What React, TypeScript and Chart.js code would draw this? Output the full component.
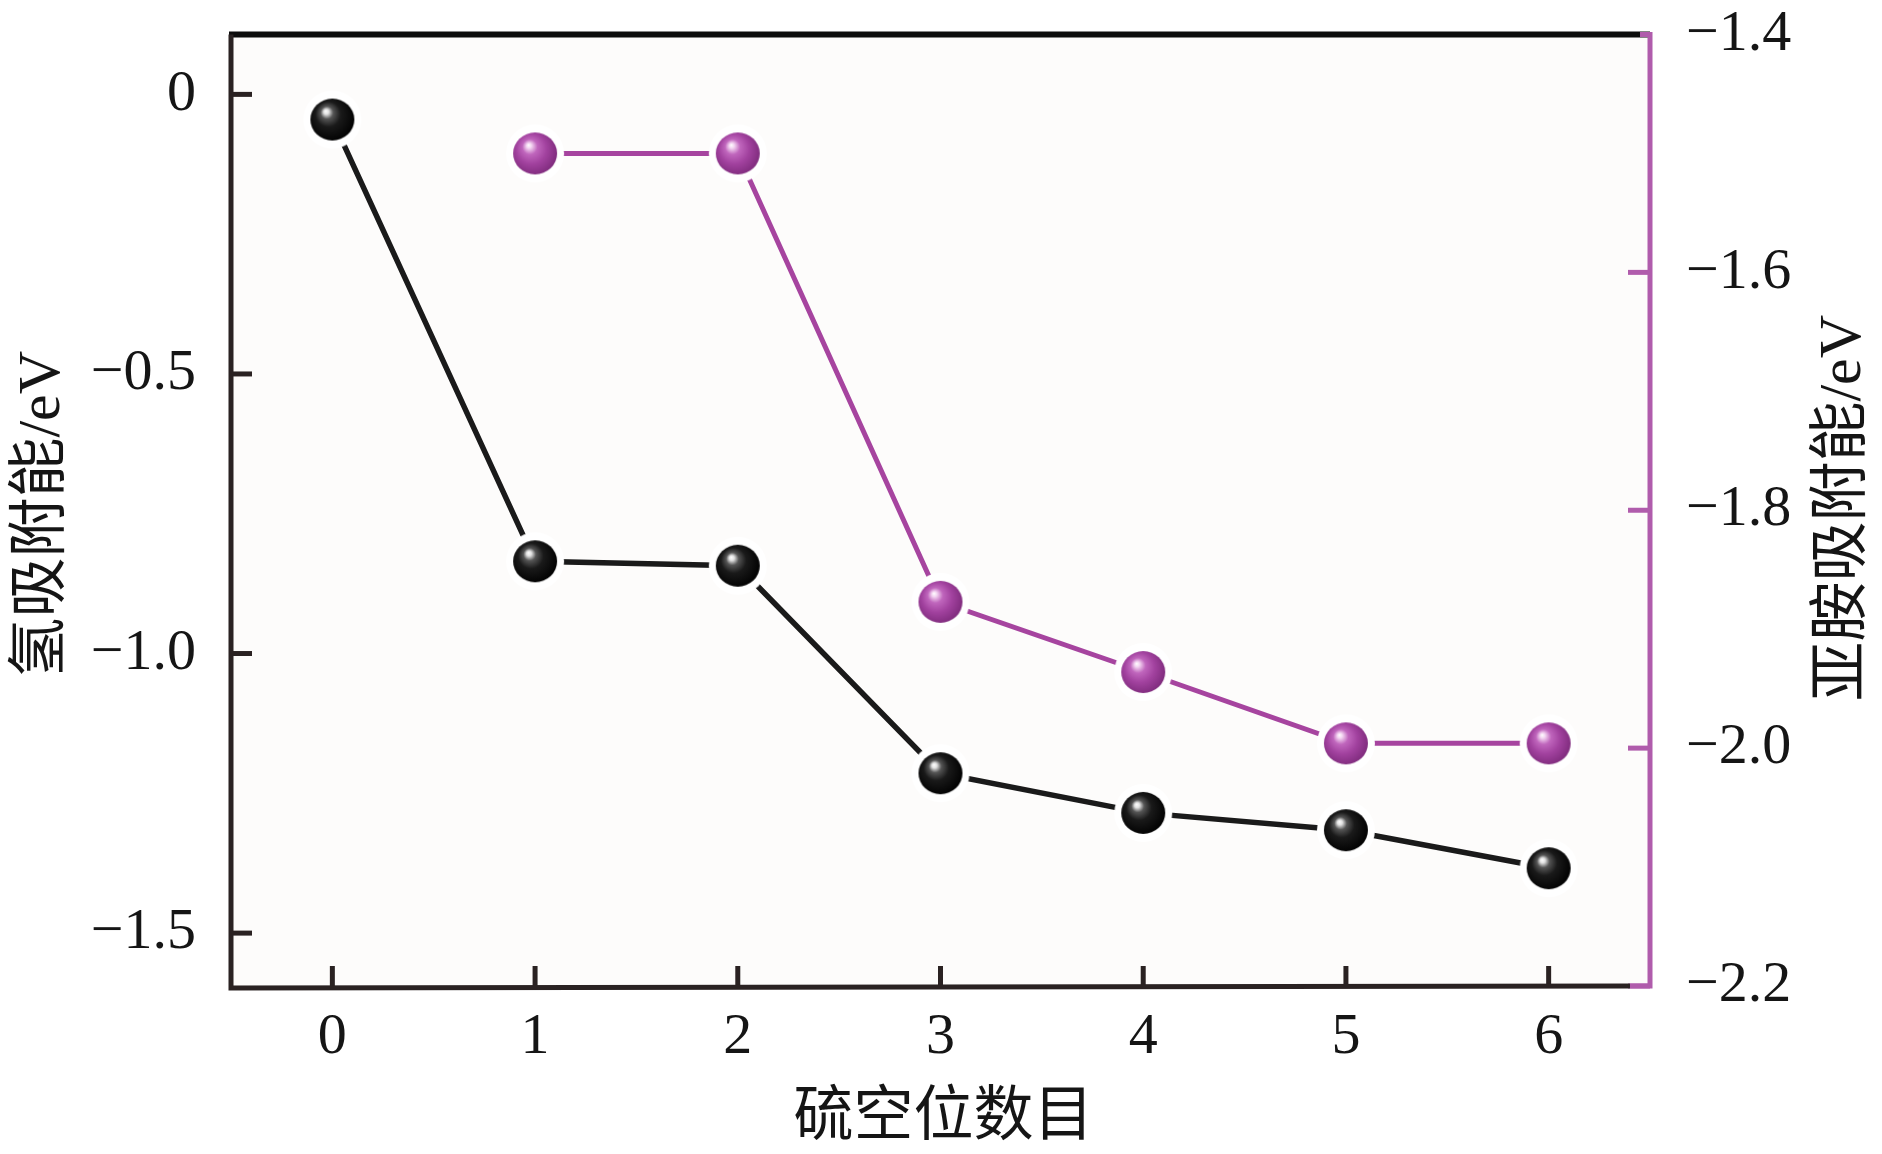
import React, { useEffect, useRef } from "react";
import { Chart, registerables } from "chart.js";

Chart.register(...registerables);

// ---- data ----
const vacancyCounts = [0, 1, 2, 3, 4, 5, 6];
const hydrogenAdsorption = [-0.045, -0.835, -0.843, -1.214, -1.285, -1.316, -1.384];
const imineAdsorption: (number | null)[] = [null, -1.5, -1.5, -1.877, -1.936, -1.996, -1.996];
const xTickValues = [0, 1, 2, 3, 4, 5, 6];
const leftTickValues = [0, -0.5, -1.0, -1.5];
const rightTickValues = [-1.4, -1.6, -1.8, -2.0, -2.2];
const xTitle = "硫空位数目";
const leftTitle = "氢吸附能/eV";
const rightTitle = "亚胺吸附能/eV";

const DARK = "#2a2222";
const PURPLE_LINE = "#a6449f";
const PURPLE_AXIS = "#b05cac";
const TEXT = "#151515";
const TICK_FONT = { family: '"Liberation Serif", "Times New Roman", serif', size: 58 };
const TITLE_FONT = '60px "Liberation Serif", "Noto Sans CJK SC", serif';

function fmt(v: number): string {
  if (Math.abs(v) < 1e-9) return "0";
  return (v < 0 ? "\u2212" : "") + Math.abs(v).toFixed(1);
}

function makeSphere(r: number, halo: number, stops: [number, string][]): HTMLCanvasElement {
  const size = Math.ceil((r + halo) * 2) + 2;
  const c = document.createElement("canvas");
  c.width = size;
  c.height = size;
  const g = c.getContext("2d")!;
  const cx = size / 2;
  const cy = size / 2;
  g.fillStyle = "#ffffff";
  g.beginPath();
  g.arc(cx, cy, r + halo, 0, Math.PI * 2);
  g.fill();
  const grad = g.createRadialGradient(cx - 0.3 * r, cy - 0.38 * r, 0, cx - 0.08 * r, cy - 0.1 * r, r * 1.15);
  stops.forEach(([o, col]) => grad.addColorStop(o, col));
  g.fillStyle = grad;
  g.beginPath();
  g.ellipse(cx, cy, r, r * 0.95, 0, 0, Math.PI * 2);
  g.fill();
  return c;
}

const decor = {
  id: "decor",
  beforeDraw(chart: any) {
    const { ctx, chartArea: a } = chart;
    ctx.save();
    ctx.fillStyle = "#ffffff";
    ctx.fillRect(0, 0, chart.width, chart.height);
    ctx.fillStyle = "#fdfcfb";
    ctx.fillRect(a.left, a.top, a.right - a.left, a.bottom - a.top);
    ctx.restore();
  },
  afterDraw(chart: any) {
    const { ctx, chartArea: a, scales } = chart;
    ctx.save();
    ctx.lineCap = "butt";
    // inward tick marks
    ctx.strokeStyle = DARK;
    ctx.lineWidth = 5;
    scales.yL.ticks.forEach((t: any) => {
      const p = scales.yL.getPixelForValue(t.value);
      ctx.beginPath();
      ctx.moveTo(a.left, p);
      ctx.lineTo(a.left + 21, p);
      ctx.stroke();
    });
    scales.x.ticks.forEach((t: any) => {
      const p = scales.x.getPixelForValue(t.value);
      ctx.beginPath();
      ctx.moveTo(p, a.bottom);
      ctx.lineTo(p, a.bottom - 20);
      ctx.stroke();
    });
    ctx.strokeStyle = PURPLE_AXIS;
    scales.yR.ticks.forEach((t: any) => {
      const p = scales.yR.getPixelForValue(t.value);
      ctx.beginPath();
      ctx.moveTo(a.right - 22, p);
      ctx.lineTo(a.right, p);
      ctx.stroke();
    });
    // frame
    ctx.strokeStyle = "#0d0d0d";
    ctx.lineWidth = 6;
    ctx.beginPath();
    ctx.moveTo(a.left - 2, a.top);
    ctx.lineTo(a.right, a.top);
    ctx.stroke();
    ctx.strokeStyle = DARK;
    ctx.lineWidth = 5;
    ctx.beginPath();
    ctx.moveTo(a.left, a.top);
    ctx.lineTo(a.left, a.bottom + 2);
    ctx.lineTo(a.right - 20, a.bottom);
    ctx.stroke();
    ctx.strokeStyle = PURPLE_AXIS;
    ctx.beginPath();
    ctx.moveTo(a.right - 20, a.bottom);
    ctx.lineTo(a.right, a.bottom);
    ctx.lineTo(a.right, a.top);
    ctx.lineTo(a.right - 10, a.top);
    ctx.stroke();
    // titles
    ctx.fillStyle = TEXT;
    ctx.font = TITLE_FONT;
    ctx.textAlign = "center";
    ctx.textBaseline = "middle";
    const cx = (a.left + a.right) / 2;
    const cy = (a.top + a.bottom) / 2;
    ctx.fillText(xTitle, cx + 3, 1119);
    ctx.save();
    ctx.translate(43, cy + 4);
    ctx.rotate(-Math.PI / 2);
    ctx.fillText(leftTitle, 0, 0);
    ctx.restore();
    ctx.save();
    ctx.translate(1844, cy - 2);
    ctx.rotate(-Math.PI / 2);
    ctx.fillText(rightTitle, 0, 0);
    ctx.restore();
    ctx.restore();
  },
};

export default function App() {
  const ref = useRef<HTMLCanvasElement | null>(null);

  useEffect(() => {
    if (!ref.current) return;
    const blackSphere = makeSphere(22, 7, [
      [0, "#ffffff"],
      [0.1, "#e2e2e2"],
      [0.25, "#555555"],
      [0.5, "#1a1a1a"],
      [1, "#000000"],
    ]);
    const purpleSphere = makeSphere(22, 7, [
      [0, "#ffffff"],
      [0.1, "#f4d6f2"],
      [0.3, "#c066bd"],
      [0.6, "#a2429f"],
      [1, "#7d2a7b"],
    ]);

    const hData = vacancyCounts.map((x, i) => ({ x, y: hydrogenAdsorption[i] }));
    const iData = vacancyCounts
      .map((x, i) => ({ x, y: imineAdsorption[i] }))
      .filter((p) => p.y !== null);

    const chart = new Chart(ref.current, {
      type: "line",
      data: {
        datasets: [
          {
            label: "氢吸附能",
            data: hData as any,
            yAxisID: "yL",
            borderColor: "#1a1a1a",
            borderWidth: 5.5,
            pointStyle: blackSphere as any,
            pointRadius: 29,
            tension: 0,
            clip: false as any,
          },
          {
            label: "亚胺吸附能",
            data: iData as any,
            yAxisID: "yR",
            borderColor: PURPLE_LINE,
            borderWidth: 5,
            pointStyle: purpleSphere as any,
            pointRadius: 29,
            tension: 0,
            clip: false as any,
          },
        ],
      },
      options: {
        animation: false,
        responsive: false,
        devicePixelRatio: 1,
        layout: { padding: { top: 33, left: 0, right: 0, bottom: 0 } },
        plugins: { legend: { display: false }, tooltip: { enabled: false } },
        scales: {
          x: {
            type: "linear",
            position: "bottom",
            min: -0.5,
            max: 6.5,
            afterBuildTicks: (s: any) => {
              s.ticks = xTickValues.map((v) => ({ value: v }));
            },
            afterFit: (s: any) => {
              s.height = 168;
              s.paddingLeft = 0;
              s.paddingRight = 0;
            },
            grid: { display: false },
            border: { display: false },
            ticks: {
              autoSkip: false,
              maxRotation: 0,
              font: TICK_FONT,
              color: TEXT,
              padding: 9,
              callback: (v: any) => String(v),
            },
          },
          yL: {
            type: "linear",
            position: "left",
            min: -1.5946,
            max: 0.1071,
            afterBuildTicks: (s: any) => {
              s.ticks = leftTickValues.map((v) => ({ value: v }));
            },
            afterFit: (s: any) => {
              s.width = 231;
              s.paddingTop = 0;
              s.paddingBottom = 0;
            },
            grid: { display: false },
            border: { display: false },
            ticks: {
              autoSkip: false,
              font: TICK_FONT,
              color: TEXT,
              padding: 27,
              callback: (v: any) => fmt(Number(v)),
            },
          },
          yR: {
            type: "linear",
            position: "right",
            min: -2.2,
            max: -1.4,
            afterBuildTicks: (s: any) => {
              s.ticks = rightTickValues.map((v) => ({ value: v }));
            },
            afterFit: (s: any) => {
              s.width = 232;
              s.paddingTop = 0;
              s.paddingBottom = 0;
            },
            grid: { display: false },
            border: { display: false },
            ticks: {
              autoSkip: false,
              font: TICK_FONT,
              color: TEXT,
              padding: 28,
              callback: (v: any) => fmt(Number(v)),
            },
          },
        },
      } as any,
      plugins: [decor],
    });
    return () => chart.destroy();
  }, []);

  return (
    <div style={{ position: "absolute", left: 0, top: 0, width: 1882, height: 1154 }}>
      <canvas ref={ref} width={1882} height={1154} style={{ display: "block" }} />
    </div>
  );
}
